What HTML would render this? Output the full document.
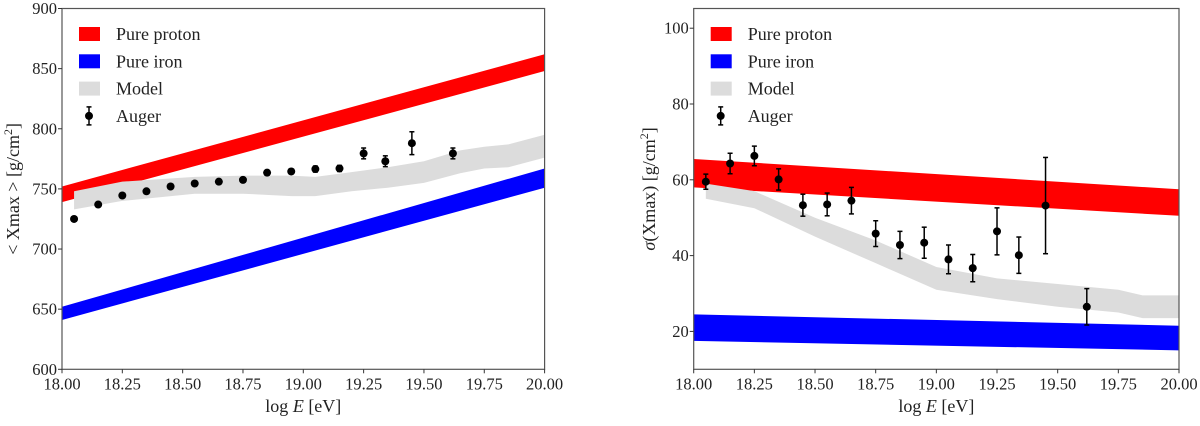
<!DOCTYPE html>
<html><head><meta charset="utf-8"><style>
body{margin:0;background:#fff;}
svg text{font-family:"Liberation Serif",serif;fill:#222;}
</style></head><body>
<svg id="c" width="1200" height="421" xmlns="http://www.w3.org/2000/svg"></svg>
<script>
const xTicks=[18.00,18.25,18.50,18.75,19.00,19.25,19.50,19.75,20.00];
const leftYTicks=[600,650,700,750,800,850,900];
const rightYTicks=[20,40,60,80,100];
const bandX=[18,20];
const leftProtonLo=[739,848], leftProtonHi=[752,862];
const leftIronLo=[641,751], leftIronHi=[652,767];
const rightProtonLo=[58,50.5], rightProtonHi=[65.5,57.5];
const rightIronLo=[17.5,15], rightIronHi=[24.5,21.5];
const leftModelX=[18.05,18.25,18.4,18.55,18.75,18.95,19.05,19.2,19.35,19.5,19.65,19.75,19.85,20.0];
const leftModelLo=[733,740,743,746,746,744,744,748,751,755,763,767,768,776];
const leftModelHi=[748,756,758,760,761,761,760,764,768,773,782,785,787,795];
const rightModelX=[18.05,18.25,18.5,18.75,19.0,19.25,19.5,19.75,19.85,20.0];
const rightModelLo=[55,52.5,45,38,31,28.5,26.5,25,23.5,23.5];
const rightModelHi=[59,57,50,44,37,34,32.5,31,29.5,29.5];
const augerX=[18.05,18.15,18.25,18.35,18.45,18.55,18.65,18.75,18.85,18.95,19.05,19.15,19.25,19.34,19.45,19.62];
const augerMean=[725,737,744.5,748,752,754.5,756,757.5,763.5,764.5,766.5,767,779.5,773,788,779.5];
const augerMeanErr=[1.5,1.5,1.5,1.5,1.5,1.5,1.5,1.5,2,2,2.5,2.5,4.5,4.5,9.5,4.5];
const augerSigma=[59.5,64.3,66.3,60.1,53.3,53.5,54.5,45.8,42.8,43.4,39,36.7,46.4,40.1,53.2,26.5];
const augerSigmaErr=[2,2.7,2.6,2.8,2.9,3,3.5,3.4,3.6,4.1,3.8,3.6,6.2,4.8,12.7,4.8];

const svg=document.getElementById('c');
const NS='http://www.w3.org/2000/svg';
function mk(tag,attrs,parent){const e=document.createElementNS(NS,tag);for(const k in attrs)e.setAttribute(k,attrs[k]);(parent||svg).appendChild(e);return e;}

function panel(cfg){
  const g=mk('g',{});
  
  
  const sx=v=>cfg.x0+(v-18)/2*(cfg.x1-cfg.x0);
  const sy=v=>cfg.yb-(v-cfg.ymin)/(cfg.ymax-cfg.ymin)*(cfg.yb-cfg.yt);
  const clipId='clip'+cfg.name;
  const cp=mk('clipPath',{id:clipId},g);
  mk('rect',{x:cfg.x0,y:cfg.yt,width:cfg.x1-cfg.x0,height:cfg.yb-cfg.yt},cp);
  const pg=mk('g',{'clip-path':'url(#'+clipId+')'},g);
  function band(xs,lo,hi,color,name){
    let d='M'+xs.map((x,i)=>sx(x)+','+sy(hi[i])).join(' L');
    for(let i=xs.length-1;i>=0;i--)d+=' L'+sx(xs[i])+','+sy(lo[i]);
    const p=mk('path',{d:d+'Z',fill:color},pg);
    
    
  }
  band(bandX,cfg.pLo,cfg.pHi,'#ff0000','pure-proton-band');
  band(bandX,cfg.iLo,cfg.iHi,'#0000ff','pure-iron-band');
  band(cfg.mX,cfg.mLo,cfg.mHi,'#dcdcdc','model-band');
  augerX.forEach((x,i)=>{
    const cx=sx(x),v=cfg.av[i],e=cfg.ae[i];
    const pt=mk('g',{},pg);
    
    
    mk('line',{x1:cx,x2:cx,y1:sy(v-e),y2:sy(v+e),stroke:'#000','stroke-width':1.5},pt);
    mk('line',{x1:cx-2.5,x2:cx+2.5,y1:sy(v-e),y2:sy(v-e),stroke:'#000','stroke-width':1.5},pt);
    mk('line',{x1:cx-2.5,x2:cx+2.5,y1:sy(v+e),y2:sy(v+e),stroke:'#000','stroke-width':1.5},pt);
    mk('circle',{cx:cx,cy:sy(v),r:4,fill:'#000'},pt);
  });
  const fr=mk('rect',{x:cfg.x0,y:cfg.yt,width:cfg.x1-cfg.x0,height:cfg.yb-cfg.yt,fill:'none',stroke:'#555','stroke-width':1.2},g);
  
  
  xTicks.forEach(t=>{
    const x=sx(t);
    mk('line',{x1:x,x2:x,y1:cfg.yb,y2:cfg.yb+4,stroke:'#333'},g);
    const tx=mk('text',{x:x,y:cfg.yb+20,'text-anchor':'middle','font-size':16.5},g);
    tx.textContent=t.toFixed(2);
    
    
  });
  cfg.yTicks.forEach(t=>{
    const y=sy(t);
    mk('line',{x1:cfg.x0-4,x2:cfg.x0,y1:y,y2:y,stroke:'#333'},g);
    const tx=mk('text',{x:cfg.x0-5,y:y+5.5,'text-anchor':'end','font-size':16.5},g);
    tx.textContent=t;
    
    
  });
  const xl=mk('text',{x:(cfg.x0+cfg.x1)/2,y:412,'text-anchor':'middle','font-size':18},g);
  xl.innerHTML='log <tspan font-style="italic">E</tspan> [eV]';
  
  
  const yl=mk('text',{x:0,y:0,'text-anchor':'middle','font-size':18,transform:'translate('+cfg.ylx+','+((cfg.yt+cfg.yb)/2)+') rotate(-90)'},g);
  yl.innerHTML=cfg.ylab;
  
  
  const lx=cfg.x0+17;
  const items=[['#ff0000','Pure proton'],['#0000ff','Pure iron'],['#dcdcdc','Model'],[null,'Auger']];
  items.forEach((it,i)=>{
    const cy=34+i*27.3;
    const le=mk('g',{},g);
    
    
    if(it[0]) mk('rect',{x:lx,y:cy-7,width:21,height:14,fill:it[0]},le);
    else{
      mk('line',{x1:lx+10,x2:lx+10,y1:cy-9,y2:cy+9,stroke:'#000','stroke-width':1.5},le);
      mk('line',{x1:lx+7.5,x2:lx+12.5,y1:cy-9,y2:cy-9,stroke:'#000','stroke-width':1.5},le);
      mk('line',{x1:lx+7.5,x2:lx+12.5,y1:cy+9,y2:cy+9,stroke:'#000','stroke-width':1.5},le);
      mk('circle',{cx:lx+10,cy:cy,r:4,fill:'#000'},le);
    }
    const t=mk('text',{x:lx+37,y:cy+6,'font-size':18},le);
    t.textContent=it[1];
  });
}
panel({name:'mean-xmax-panel',x0:62,x1:544.6,yt:8.5,yb:369.3,ymin:600,ymax:900,yTicks:leftYTicks,
  pLo:leftProtonLo,pHi:leftProtonHi,iLo:leftIronLo,iHi:leftIronHi,mX:leftModelX,mLo:leftModelLo,mHi:leftModelHi,
  av:augerMean,ae:augerMeanErr,ylx:19,ylab:'&lt; Xmax &gt; [g/cm<tspan baseline-shift="super" font-size="12">2</tspan>]'});
panel({name:'sigma-xmax-panel',x0:693.7,x1:1179,yt:8.5,yb:369.3,ymin:10,ymax:105.2,yTicks:rightYTicks,
  pLo:rightProtonLo,pHi:rightProtonHi,iLo:rightIronLo,iHi:rightIronHi,mX:rightModelX,mLo:rightModelLo,mHi:rightModelHi,
  av:augerSigma,ae:augerSigmaErr,ylx:655,ylab:'<tspan font-style="italic">σ</tspan>(Xmax) [g/cm<tspan baseline-shift="super" font-size="12">2</tspan>]'});
</script>
</body></html>
